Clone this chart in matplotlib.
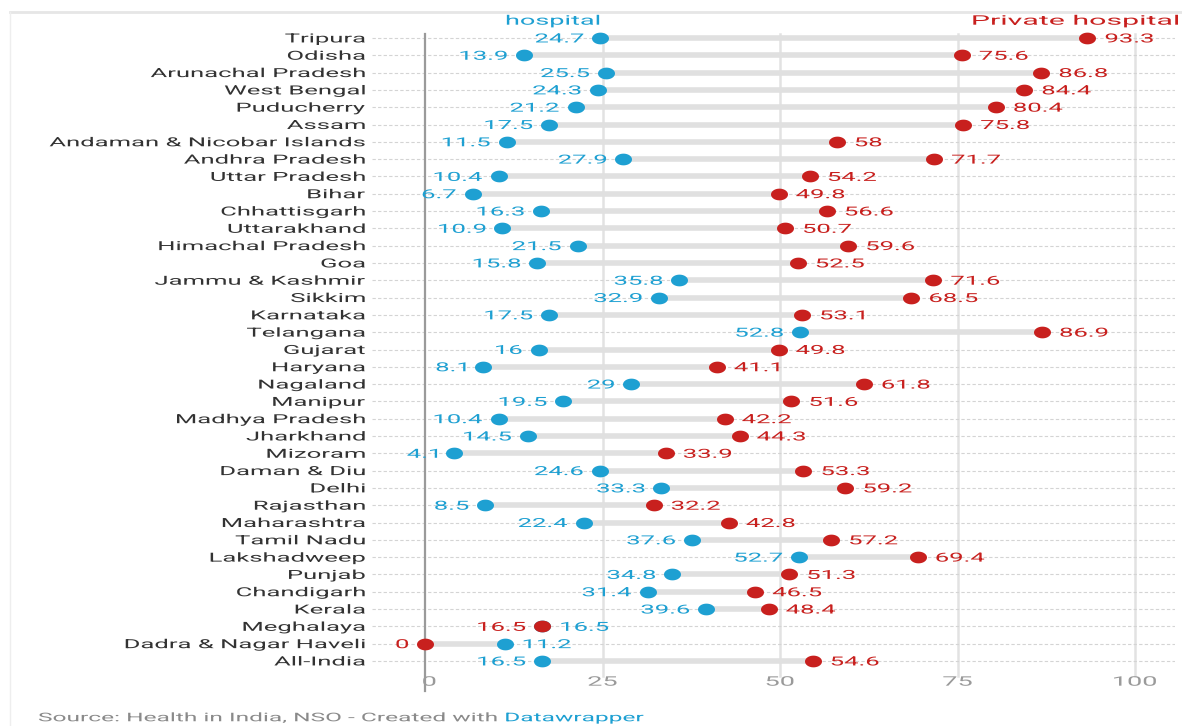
import matplotlib.pyplot as plt
from matplotlib.path import Path
from matplotlib.textpath import TextPath
from matplotlib.patches import PathPatch
from matplotlib.font_manager import FontProperties
from matplotlib.transforms import Affine2D, ScaledTranslation, blended_transform_factory
import numpy as np

states = ["Tripura", "Odisha", "Arunachal Pradesh", "West Bengal", "Puducherry", "Assam",
          "Andaman & Nicobar Islands", "Andhra Pradesh", "Uttar Pradesh", "Bihar",
          "Chhattisgarh", "Uttarakhand", "Himachal Pradesh", "Goa", "Jammu & Kashmir",
          "Sikkim", "Karnataka", "Telangana", "Gujarat", "Haryana", "Nagaland", "Manipur",
          "Madhya Pradesh", "Jharkhand", "Mizoram", "Daman & Diu", "Delhi", "Rajasthan",
          "Maharashtra", "Tamil Nadu", "Lakshadweep", "Punjab", "Chandigarh", "Kerala",
          "Meghalaya", "Dadra & Nagar Haveli", "All-India"]
govt = [24.7, 13.9, 25.5, 24.3, 21.2, 17.5, 11.5, 27.9, 10.4, 6.7, 16.3, 10.9, 21.5, 15.8,
        35.8, 32.9, 17.5, 52.8, 16, 8.1, 29, 19.5, 10.4, 14.5, 4.1, 24.6, 33.3, 8.5, 22.4,
        37.6, 52.7, 34.8, 31.4, 39.6, 16.5, 11.2, 16.5]
private = [93.3, 75.6, 86.8, 84.4, 80.4, 75.8, 58, 71.7, 54.2, 49.8, 56.6, 50.7, 59.6, 52.5,
           71.6, 68.5, 53.1, 86.9, 49.8, 41.1, 61.8, 51.6, 42.2, 44.3, 33.9, 53.3, 59.2, 32.2,
           42.8, 57.2, 69.4, 51.3, 46.5, 48.4, 16.5, 0, 54.6]
xticks = [0, 25, 50, 75, 100]

BLUE = "#1ea0d2"
RED = "#c8201e"
GREY = "#333333"

W, H = 1182, 726
DPI = 100
fig = plt.figure(figsize=(W / DPI, H / DPI), dpi=DPI)
FP = FontProperties(family="Roboto")
SX = 2.05  # the source picture is stretched horizontally


def stext(x, y, s, color, trans, ha="left", size=9.0, sx=SX):
    # text drawn as a path so it can be stretched like the reference
    tp = TextPath((0, 0), s, size=size, prop=FP)
    ext = tp.get_extents()
    if ha == "right":
        dx = -ext.x1
    elif ha == "center":
        dx = -(ext.x0 + ext.x1) / 2
    else:
        dx = 0
    dy = -0.711 * size / 2
    px = DPI / 72
    tr = Affine2D().translate(dx, dy).scale(sx * px, px) + ScaledTranslation(x, y, trans)
    p = PathPatch(tp, transform=tr, facecolor=color, edgecolor="none", lw=0, zorder=5)
    fig.add_artist(p)
    return p


# axes placed in pixel coordinates
left_px, right_px, top_px, bot_px = 372, 1175, 28, 670
ax = fig.add_axes([left_px / W, 1 - bot_px / H, (right_px - left_px) / W, (bot_px - top_px) / H])
x0_px, x100_px = 425, 1135
scale = (x100_px - x0_px) / 100
ax.set_xlim((left_px - x0_px) / scale, (right_px - x0_px) / scale)
row0, step = 38, (661 - 38) / 36
ax.set_ylim((bot_px - row0) / step, (top_px - row0) / step)

for s in ax.spines.values():
    s.set_visible(False)
ax.set_yticks([])
ax.set_xticks([])

# vertical grid
for t in xticks[1:]:
    ax.axvline(t, color="#e2e2e2", lw=1.8, ymin=-0.01, ymax=0.99, zorder=0, clip_on=False)
ax.axvline(0, color="#9a9a9a", lw=1.6, ymin=-0.032, ymax=0.99, zorder=1, clip_on=False)

tick_tr = blended_transform_factory(ax.transData, fig.transFigure)
for t in xticks:
    stext(t + (0.6 if t == 0 else 0), 1 - 681 / H, str(t), "#9a9a9a", tick_tr, ha="center", size=9.5)

# ellipse marker
th = np.linspace(0, 2 * np.pi, 40)
ell = Path(np.column_stack([np.cos(th) * 1.45, np.sin(th)]))

y = np.arange(len(states))
for i, name in enumerate(states):
    g, p = govt[i], private[i]
    ax.axhline(i, color="#d4d4d4", lw=0.8, ls=(0, (3, 2)), zorder=0)
    ax.plot([min(g, p), max(g, p)], [i, i], color="#e0e0e0", lw=4, solid_capstyle="butt", zorder=1)
    stext(-8.5, i, name, GREY, ax.transData, ha="right")
    off = 2.4
    if g < p:
        stext(g - off, i, f"{g:g}", BLUE, ax.transData, ha="right")
        stext(p + off, i, f"{p:g}", RED, ax.transData, ha="left")
    else:
        stext(g + off, i, f"{g:g}", BLUE, ax.transData, ha="left")
        stext(p - off, i, f"{p:g}", RED, ax.transData, ha="right")

ax.scatter(govt, y, marker=ell, s=150, color=BLUE, zorder=3, linewidths=0)
ax.scatter(private, y, marker=ell, s=150, color=RED, zorder=3, linewidths=0)

# header labels
stext(553 / W, 1 - 20 / H, "hospital", BLUE, fig.transFigure, ha="center", size=9.5)
stext(1178 / W, 1 - 20 / H, "Private hospital", RED, fig.transFigure, ha="right", size=9.5, sx=2.3)

# card border
fig.add_artist(plt.Line2D([10 / W, 1], [1 - 12 / H, 1 - 12 / H], color="#e6e6e6", lw=2))
fig.add_artist(plt.Line2D([10 / W, 10 / W], [1 - 12 / H, 0], color="#eeeeee", lw=1))

# source
src = "Source: Health in India, NSO - Created with "
stext(38 / W, 1 - 717 / H, src, "#8a8a8a", fig.transFigure, size=8.6)
sw = TextPath((0, 0), src, size=8.6, prop=FP).get_extents().x1 + 2.7
stext(38 / W + sw * SX * DPI / 72 / W, 1 - 717 / H, "Datawrapper", BLUE, fig.transFigure, size=8.6)

fig.savefig("out.png", dpi=DPI, facecolor="white")
